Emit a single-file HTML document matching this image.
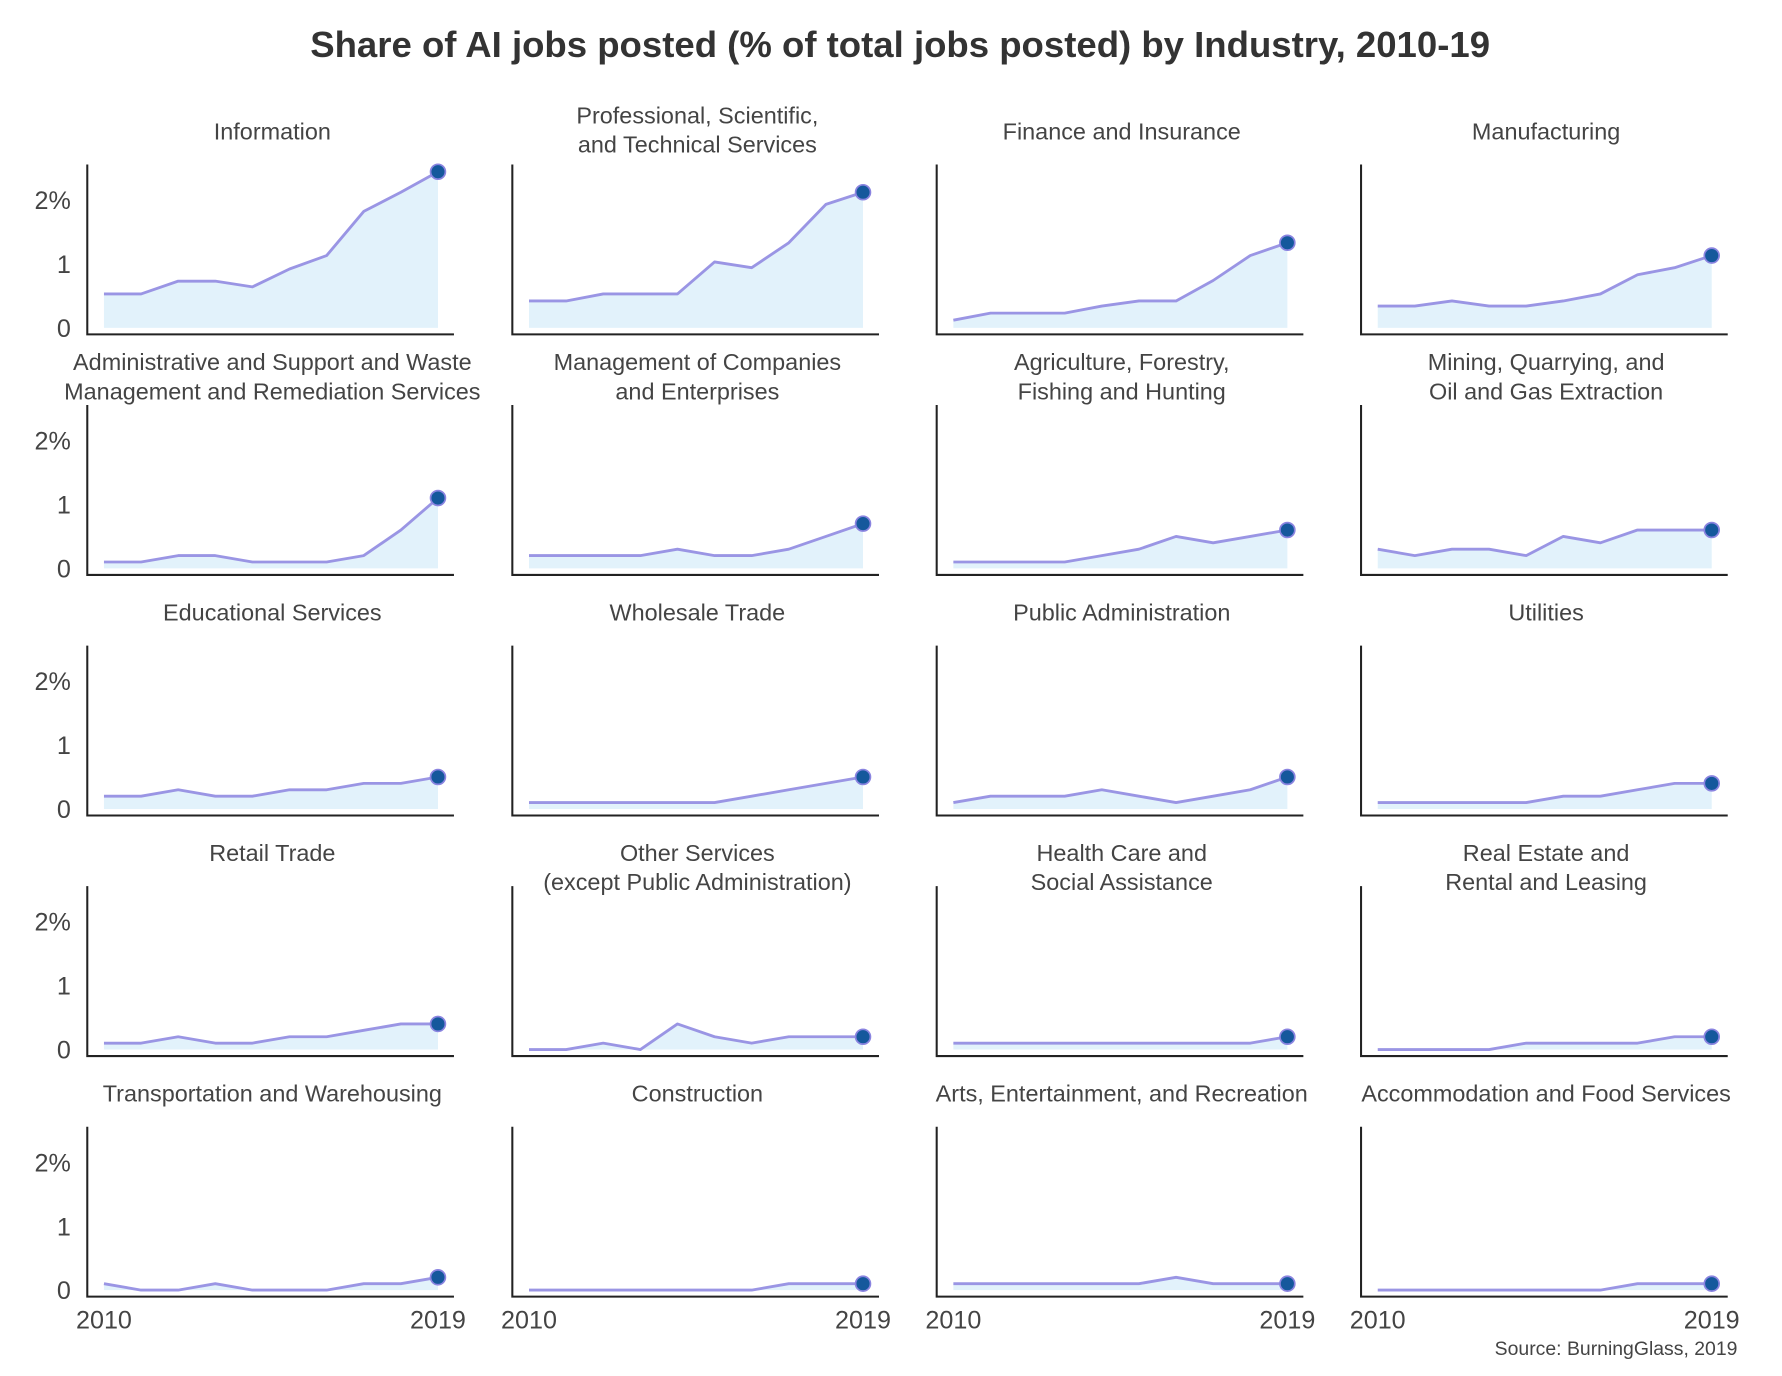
<!DOCTYPE html>
<html><head><meta charset="utf-8">
<style>
html,body{margin:0;padding:0;background:#fff;}
svg{display:block;font-family:"Liberation Sans",sans-serif;}
.t{fill:#444;font-size:20.5px;text-anchor:middle;}
.tk{fill:#444;font-size:22px;}
</style></head>
<body>
<svg id="c" width="1782" height="1376" viewBox="0 0 1560 1204.6" xmlns="http://www.w3.org/2000/svg">
<text x="788" y="50" text-anchor="middle" font-size="32" font-weight="bold" fill="#333">Share of AI jobs posted (% of total jobs posted) by Industry, 2010-19</text>
<text x="1521" y="1186" text-anchor="end" font-size="17" fill="#444">Source: BurningGlass, 2019</text>
</svg>
<script>
const years = [2010,2011,2012,2013,2014,2015,2016,2017,2018,2019];
const industries = [
 ["Information"],
 ["Professional, Scientific,","and Technical Services"],
 ["Finance and Insurance"],
 ["Manufacturing"],
 ["Administrative and Support and Waste","Management and Remediation Services"],
 ["Management of Companies","and Enterprises"],
 ["Agriculture, Forestry,","Fishing and Hunting"],
 ["Mining, Quarrying, and","Oil and Gas Extraction"],
 ["Educational Services"],
 ["Wholesale Trade"],
 ["Public Administration"],
 ["Utilities"],
 ["Retail Trade"],
 ["Other Services","(except Public Administration)"],
 ["Health Care and","Social Assistance"],
 ["Real Estate and","Rental and Leasing"],
 ["Transportation and Warehousing"],
 ["Construction"],
 ["Arts, Entertainment, and Recreation"],
 ["Accommodation and Food Services"]
];
const sInformation = [0.53,0.53,0.73,0.73,0.64,0.92,1.13,1.82,2.12,2.44];
const sProfessional = [0.42,0.42,0.53,0.53,0.53,1.03,0.94,1.33,1.93,2.12];
const sFinance = [0.12,0.23,0.23,0.23,0.34,0.42,0.42,0.74,1.13,1.33];
const sManufacturing = [0.34,0.34,0.42,0.34,0.34,0.42,0.53,0.83,0.94,1.13];
const sAdministrative = [0.1,0.1,0.2,0.2,0.1,0.1,0.1,0.2,0.6,1.1];
const sManagement = [0.2,0.2,0.2,0.2,0.3,0.2,0.2,0.3,0.5,0.7];
const sAgriculture = [0.1,0.1,0.1,0.1,0.2,0.3,0.5,0.4,0.5,0.6];
const sMining = [0.3,0.2,0.3,0.3,0.2,0.5,0.4,0.6,0.6,0.6];
const sEducational = [0.2,0.2,0.3,0.2,0.2,0.3,0.3,0.4,0.4,0.5];
const sWholesale = [0.1,0.1,0.1,0.1,0.1,0.1,0.2,0.3,0.4,0.5];
const sPublicAdmin = [0.1,0.2,0.2,0.2,0.3,0.2,0.1,0.2,0.3,0.5];
const sUtilities = [0.1,0.1,0.1,0.1,0.1,0.2,0.2,0.3,0.4,0.4];
const sRetail = [0.1,0.1,0.2,0.1,0.1,0.2,0.2,0.3,0.4,0.4];
const sOtherServices = [0.0,0.0,0.1,0.0,0.4,0.2,0.1,0.2,0.2,0.2];
const sHealthCare = [0.1,0.1,0.1,0.1,0.1,0.1,0.1,0.1,0.1,0.2];
const sRealEstate = [0.0,0.0,0.0,0.0,0.1,0.1,0.1,0.1,0.2,0.2];
const sTransportation = [0.1,0.0,0.0,0.1,0.0,0.0,0.0,0.1,0.1,0.2];
const sConstruction = [0.0,0.0,0.0,0.0,0.0,0.0,0.0,0.1,0.1,0.1];
const sArts = [0.1,0.1,0.1,0.1,0.1,0.1,0.2,0.1,0.1,0.1];
const sAccommodation = [0.0,0.0,0.0,0.0,0.0,0.0,0.0,0.1,0.1,0.1];
const series = [sInformation,sProfessional,sFinance,sManufacturing,sAdministrative,sManagement,sAgriculture,sMining,sEducational,sWholesale,sPublicAdmin,sUtilities,sRetail,sOtherServices,sHealthCare,sRealEstate,sTransportation,sConstruction,sArts,sAccommodation];
const yTicks = [0,1,2];
const yTickLabels = ["0","1","2%"];
const xTickLabels = ["2010","2019"];

const NS="http://www.w3.org/2000/svg";
const svg=document.getElementById('c');
function mk(tag,attrs,parent){const e=document.createElementNS(NS,tag);for(const k in attrs)e.setAttribute(k,attrs[k]);(parent||svg).appendChild(e);return e;}
const colX=[76.4,448.5,820,1191.5];
const twoLineOffset=[-14,-8.5,-5,0,0];
const pitch=210.6;
series.forEach((vals,i)=>{
  const c=i%4,r=Math.floor(i/4);
  const x0=colX[c], x1=x0+321, yTop=144+pitch*r, yBot=292.7+pitch*r;
  const zero=yBot-5.7, unit=56;
  const xs=j=>x0+14.6+(292.4)*(j/(years.length-1));
  const ys=v=>zero-v*unit;
  const g=mk('g',{});
  
  
  const title=industries[i];
  const cx=x0+162;
  title.forEach((ln,k)=>{
    const single=115+pitch*r;
    const center = title.length===1 ? single : single+twoLineOffset[r]+k*25.5;
    const t=mk('text',{x:cx,y:center+7,class:'t'},g);
    
    
    t.textContent=ln;
  });
  let d='M'+xs(0)+','+ys(vals[0]);
  for(let j=1;j<vals.length;j++) d+=' L'+xs(j)+','+ys(vals[j]);
  const area=mk('path',{d:d+' L'+xs(vals.length-1)+','+zero+' L'+xs(0)+','+zero+' Z',fill:'#e2f2fb',stroke:'none'},g);
  
  
  const line=mk('path',{d:d,fill:'none',stroke:'#9a95e4','stroke-width':2.5,'stroke-linejoin':'round'},g);
  
  
  const ax=mk('path',{d:`M${x0},${yTop} L${x0},${yBot} L${x1},${yBot}`,fill:'none',stroke:'#222','stroke-width':1.8},g);
  
  
  const n=vals.length-1;
  const dot=mk('circle',{cx:xs(n),cy:ys(vals[n]),r:6.5,fill:'#15589c',stroke:'#8a84e0','stroke-width':1.5},g);
  
  
  if(c===0){
    yTicks.forEach((v,k)=>{
      const t=mk('text',{x:62,y:ys(v)+8,class:'tk','text-anchor':'end'},g);
      
      
      t.textContent=yTickLabels[k];
    });
  }
  if(r===4){
    [0,n].forEach((j,k)=>{
      const t=mk('text',{x:xs(j),y:1163,class:'tk','text-anchor':'middle'},g);
      
      
      t.textContent=xTickLabels[k];
    });
  }
});
</script>
</body></html>
